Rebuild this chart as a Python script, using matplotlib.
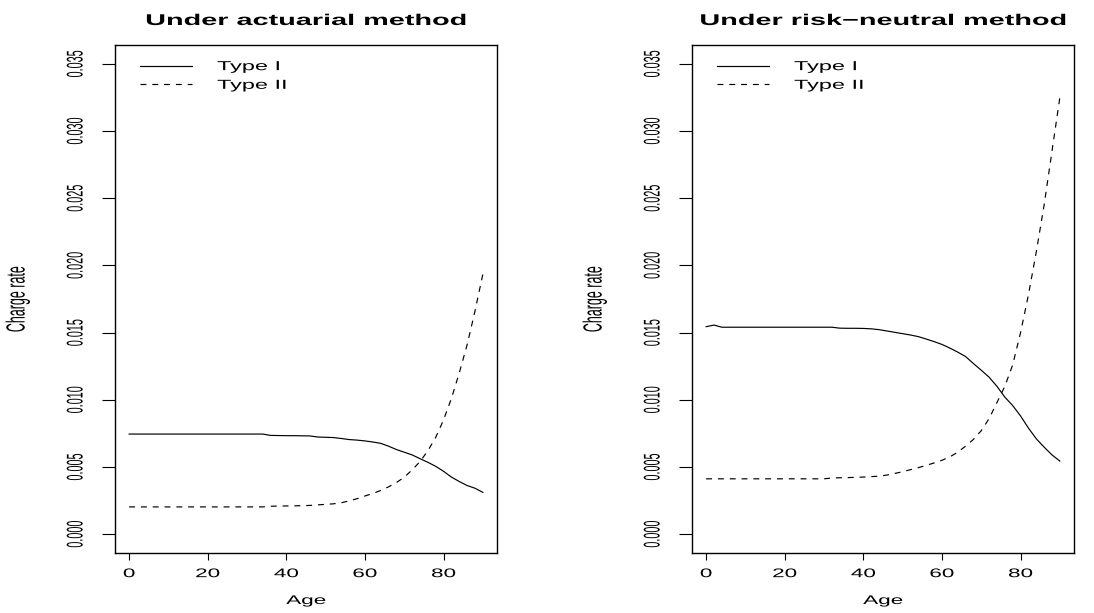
import matplotlib
matplotlib.use("Agg")
import matplotlib.pyplot as plt
from matplotlib.patheffects import AbstractPathEffect
from matplotlib.transforms import Affine2D

# Charge rates by issue age, every second year from 0 to 90
ages = list(range(0, 92, 2))

actuarial_type1 = [0.00745] * 18 + [
    0.00735, 0.00734, 0.00733, 0.00733, 0.00732, 0.00731, 0.00723, 0.00721,
    0.00719, 0.00712, 0.00704, 0.00700, 0.00694, 0.00686, 0.00676, 0.00655,
    0.00630, 0.00610, 0.00590, 0.00562, 0.00535, 0.00505, 0.00468, 0.00425,
    0.00392, 0.00362, 0.00342, 0.00311]
actuarial_type2 = [0.00203] * 18 + [
    0.00208, 0.00209, 0.00210, 0.00211, 0.00212, 0.00214, 0.00218, 0.00222,
    0.00226, 0.00234, 0.00248, 0.00264, 0.00284, 0.00303, 0.00325, 0.00352,
    0.00384, 0.00424, 0.00478, 0.00540, 0.00620, 0.00720, 0.00850, 0.01010,
    0.01200, 0.01410, 0.01660, 0.01935]

riskneutral_type1 = [0.01544, 0.01556] + [0.01540] * 15 + [
    0.01533, 0.01532, 0.01532, 0.01531, 0.01528, 0.01522, 0.01512, 0.01502,
    0.01492, 0.01482, 0.01470, 0.01452, 0.01433, 0.01412, 0.01385, 0.01355,
    0.01322, 0.01270, 0.01220, 0.01168, 0.01100, 0.01020, 0.00957, 0.00880,
    0.00790, 0.00710, 0.00648, 0.00590, 0.00544]
riskneutral_type2 = [0.00412] * 16 + [
    0.00418, 0.00420, 0.00421, 0.00423, 0.00425, 0.00428, 0.00432, 0.00440,
    0.00452, 0.00465, 0.00480, 0.00495, 0.00512, 0.00530, 0.00550, 0.00575,
    0.00610, 0.00655, 0.00705, 0.00770, 0.00860, 0.00980, 0.01100, 0.01260,
    0.01500, 0.01780, 0.02100, 0.02450, 0.02850, 0.03250]

titles = ["Under actuarial method", "Under risk\u2212neutral method"]
series_labels = ["Type I", "Type II"]
x_ticks = [0, 20, 40, 60, 80]
y_ticks = [0.000, 0.005, 0.010, 0.015, 0.020, 0.025, 0.030, 0.035]

SX = 1.8      # horizontal widening of upright text
SY = 2.1      # widening of rotated text across its baseline


class Stretch(AbstractPathEffect):
    """Scale glyph outlines in the text's own frame before placing them."""

    def __init__(self, sx=1.0, sy=1.0, anchor="center"):
        super().__init__()
        self._sx = sx
        self._sy = sy
        self._anchor = anchor

    def draw_path(self, renderer, gc, tpath, affine, rgbFace=None):
        ext = tpath.get_extents()
        cx = 0.0 if self._anchor == "left" else (ext.x0 + ext.x1) / 2
        cy = (ext.y0 + ext.y1) / 2
        widen = Affine2D().translate(-cx, -cy).scale(self._sx, self._sy).translate(cx, cy)
        renderer.draw_path(gc, tpath, widen + affine, rgbFace)


plt.rcParams["font.family"] = ["Liberation Sans", "DejaVu Sans"]

W, H = 1094, 613
fig = plt.figure(figsize=(W / 100, H / 100), dpi=100)

box_w, box_h, box_bottom = 382, 508, 60
panels = [
    (115, actuarial_type1, actuarial_type2),
    (692, riskneutral_type1, riskneutral_type2),
]

for (left, t1, t2), title in zip(panels, titles):
    ax = fig.add_axes([left / W, box_bottom / H, box_w / W, box_h / H])
    ax.plot(ages, t1, color="black", lw=0.85, ls="-", label=series_labels[0])
    ax.plot(ages, t2, color="black", lw=0.85, ls=(0, (5, 5)), label=series_labels[1])

    ax.set_xlim(-3.6, 93.6)
    ax.set_ylim(-0.0014, 0.0364)
    ax.set_xticks(x_ticks)
    ax.set_yticks(y_ticks)
    ax.set_yticklabels([f"{v:.3f}" for v in y_ticks])
    for s in ax.spines.values():
        s.set_linewidth(1.0)
    ax.tick_params(axis="x", length=5, width=0.8, pad=5.9, labelsize=9)
    ax.tick_params(axis="y", length=9.4, width=0.8, pad=15.5, labelsize=7.8,
                   labelrotation=90)
    for lab in ax.get_yticklabels():
        lab.set_va("center")
        lab.set_path_effects([Stretch(sy=SY)])
    for lab in ax.get_xticklabels():
        lab.set_path_effects([Stretch(sx=SX)])

    ttl = ax.set_title(title, fontsize=11.2, fontweight="bold", pad=14.4)
    ttl.set_path_effects([Stretch(sx=SX * 1.03)])

    xl = ax.set_xlabel("Age", fontsize=9, va="baseline")
    ax.xaxis.set_label_coords(0.5, -51 / box_h)
    xl.set_path_effects([Stretch(sx=SX)])

    yl = ax.set_ylabel("Charge rate", fontsize=9, va="center")
    ax.yaxis.set_label_coords(-97 / box_w, 0.5)
    yl.set_path_effects([Stretch(sy=SY)])

    leg = ax.legend(loc="upper left", bbox_to_anchor=(25 / box_w, 1 - 16 / box_h),
                    frameon=False, borderaxespad=0, borderpad=0, fontsize=9.4,
                    handlelength=4.0, handletextpad=1.9, labelspacing=0.5)
    for t in leg.get_texts():
        t.set_path_effects([Stretch(sx=SX, anchor="left")])

fig.savefig("out.png", dpi=100)
